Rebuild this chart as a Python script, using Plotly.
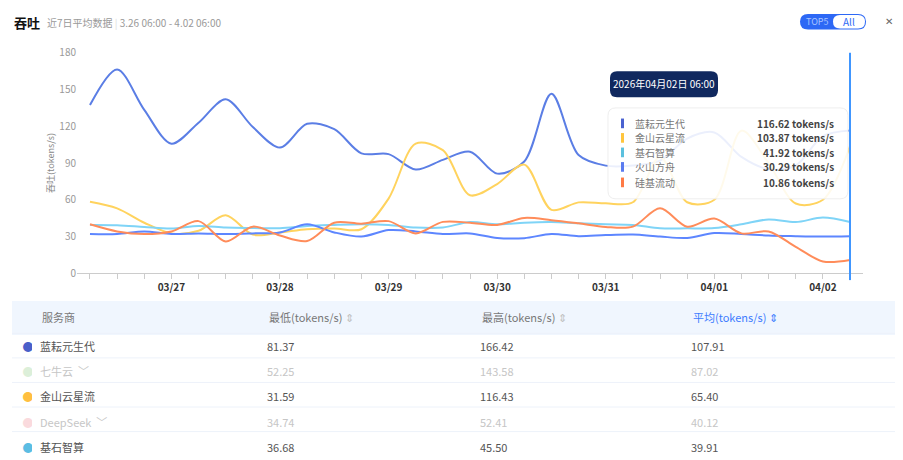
import pandas as pd
import plotly.graph_objs as go

W, H = 903, 460
OFF = 8  # the page puts the figure 8px in from the top-left

times = pd.date_range('2026-03-26 06:00', periods=29, freq='6h')
day_ticks = ['03/27', '03/28', '03/29', '03/30', '03/31', '04/01', '04/02']

lanyun = [137.3, 166.42, 133.4, 105.8, 122.9, 142.0, 119.4, 102.6, 122.0, 117.6,
          97.9, 97.3, 84.7, 92.6, 99.2, 81.37, 91.3, 146.5, 96.5, 87.9,
          88.0, 92.0, 110.0, 115.0, 95.0, 85.0, 88.0, 112.0, 116.62]
jinshan = [58.4, 53.0, 41.3, 32.6, 34.7, 47.4, 31.59, 33.4, 36.0, 36.6,
           36.0, 61.0, 105.8, 100.5, 63.7, 72.9, 88.7, 51.8, 57.9, 57.1,
           58.0, 95.0, 58.0, 60.0, 116.43, 90.0, 57.0, 60.0, 103.87]
jishi = [39.5, 39.3, 37.9, 36.68, 38.7, 37.4, 37.0, 36.8, 38.7, 39.5,
         40.0, 39.5, 37.4, 37.4, 41.8, 40.0, 41.3, 41.8, 40.8, 40.0,
         39.5, 36.8, 36.7, 36.9, 40.0, 44.0, 41.8, 45.5, 41.92]
huoshan = [32.1, 32.1, 34.2, 32.1, 32.6, 32.1, 32.6, 33.4, 40.0, 33.4,
           30.0, 35.3, 34.2, 32.1, 32.6, 28.9, 28.7, 32.1, 30.3, 31.2,
           31.6, 30.0, 28.9, 32.9, 32.1, 30.8, 30.3, 30.0, 30.29]
guiji = [40.0, 34.2, 32.1, 34.2, 42.6, 26.0, 38.1, 30.8, 26.3, 41.3,
         40.5, 42.6, 32.6, 42.0, 41.3, 39.5, 45.2, 43.4, 40.8, 37.9,
         38.1, 53.1, 38.1, 44.7, 32.6, 34.2, 21.6, 9.7, 10.86]

series_names = ['蓝耘元生代', '金山云星流', '基石智算', '火山方舟', '硅基流动']
series_colors = ['#5b7ee5', '#ffd35e', '#7fd4f7', '#5d86ff', '#ff8c5a']
tip_colors = ['#4a62d0', '#ffc53d', '#5bc0de', '#5a7bf0', '#ff7a45']

providers = ['蓝耘元生代', '七牛云', '金山云星流', 'DeepSeek', '基石智算']
min_vals = [81.37, 52.25, 31.59, 34.74, 36.68]
max_vals = [166.42, 143.58, 116.43, 52.41, 45.50]
avg_vals = [107.91, 87.02, 65.40, 40.12, 39.91]
active = [True, False, True, False, True]
dot_colors = ['#4a5fc9', '#dcefd9', '#ffbf40', '#fadadd', '#5bbde3']
table_head = ['服务商', '最低(tokens/s)', '最高(tokens/s)', '平均(tokens/s)']

FONT = 'Noto Sans CJK SC, Noto Sans, sans-serif'


def px(x):
    return (x - OFF) / W


def py(y):
    return 1 - (y - OFF) / H


def rounded_rect(x0, y0, x1, y1, r):
    pts = [
        ('M', x0 + r, y0), ('L', x1 - r, y0), ('Q', x1, y0, x1, y0 + r),
        ('L', x1, y1 - r), ('Q', x1, y1, x1 - r, y1), ('L', x0 + r, y1),
        ('Q', x0, y1, x0, y1 - r), ('L', x0, y0 + r), ('Q', x0, y0, x0 + r, y0),
    ]
    out = []
    for p in pts:
        if p[0] == 'Q':
            out.append('Q%.5f,%.5f %.5f,%.5f' % (px(p[1]), py(p[2]), px(p[3]), py(p[4])))
        else:
            out.append('%s%.5f,%.5f' % (p[0], px(p[1]), py(p[2])))
    return ' '.join(out) + ' Z'


fig = go.Figure()

all_series = [lanyun, jinshan, jishi, huoshan, guiji]
for name, vals, color in zip(series_names, all_series, series_colors):
    fig.add_trace(go.Scatter(x=times, y=vals, name=name, mode='lines',
                             line=dict(color=color, width=2, shape='spline', smoothing=0.9),
                             hoverinfo='skip'))

# tick labels only at midnight
tickvals = list(times)
ticktext = []
k = 0
for t in times:
    if t.hour == 0:
        ticktext.append('<b>%s</b>' % day_ticks[k])
        k += 1
    else:
        ticktext.append('')

pad = pd.Timedelta(hours=2.87)
fig.update_layout(
    width=W, height=H, margin=dict(l=0, r=0, t=0, b=0),
    paper_bgcolor='white', plot_bgcolor='white', showlegend=False,
    font=dict(family=FONT, size=10, color='#999'),
    xaxis=dict(domain=[px(77), px(863)], range=[times[0] - pad, times[-1] + pad],
               tickvals=tickvals, ticktext=ticktext, ticks='outside', ticklen=5,
               tickcolor='#cccccc', showline=True, linecolor='#cccccc', linewidth=1,
               showgrid=False, zeroline=False, tickfont=dict(size=10, color='#333')),
    yaxis=dict(domain=[py(274), py(46)], range=[0, 180], tickvals=[0, 30, 60, 90, 120, 150, 180],
               showgrid=False, zeroline=False, showline=False, ticks='',
               tickfont=dict(size=10, color='#999')),
)

HEAD_H = 33
ROW_H = 25.4
TABLE_TOP = 303

shapes = []
# cursor line
shapes.append(dict(type='line', xref='x', yref='paper', x0=times[-1], x1=times[-1],
                   y0=py(281), y1=py(46), line=dict(color='#4096ff', width=2)))
# tooltip
shapes.append(dict(type='path', xref='paper', yref='paper', path=rounded_rect(610, 65, 718, 92, 7),
                   fillcolor='#10285e', line=dict(width=0)))
shapes.append(dict(type='path', xref='paper', yref='paper', path=rounded_rect(608, 103, 848, 197, 8),
                   fillcolor='rgba(255,255,255,0.88)', line=dict(color='#eeeeee', width=1)))
row_y = [119, 134, 149, 164, 180]
for yy, c in zip(row_y, tip_colors):
    shapes.append(dict(type='rect', xref='paper', yref='paper', x0=px(621), x1=px(624),
                       y0=py(yy + 5), y1=py(yy - 5), fillcolor=c, line=dict(width=0)))
# toggle
shapes.append(dict(type='path', xref='paper', yref='paper', path=rounded_rect(800, 6, 866, 22, 8),
                   fillcolor='#2d68f5', line=dict(width=0)))
shapes.append(dict(type='path', xref='paper', yref='paper', path=rounded_rect(833, 7, 865, 21, 7),
                   fillcolor='white', line=dict(width=0)))
# row separators of the table
for i in range(len(providers)):
    yy = TABLE_TOP + HEAD_H + ROW_H * i
    shapes.append(dict(type='line', xref='paper', yref='paper', x0=px(12), x1=px(898),
                       y0=py(yy), y1=py(yy), line=dict(color='#edf2fa', width=1)))
fig.update_layout(shapes=shapes)

ann = []
ann.append(dict(x=px(12), y=py(15), text='<b>吞吐</b>', font=dict(size=13, color='#111')))
ann.append(dict(x=px(45), y=py(15),
                text="近7日平均数据 <span style='color:#ddd'>|</span> 3.26 06:00 - 4.02 06:00",
                font=dict(size=10, color='#999')))
ann.append(dict(x=px(817), y=py(14), text='TOP5', xanchor='center', font=dict(size=9, color='#a9c3ff')))
ann.append(dict(x=px(849), y=py(14), text='All', xanchor='center', font=dict(size=10, color='#2d68f5')))
ann.append(dict(x=px(889), y=py(14), text='✕', xanchor='center',
                font=dict(family='DejaVu Sans', size=10, color='#666')))
ann.append(dict(x=px(50), y=py(160), text='吞吐(tokens/s)', textangle=-90, xanchor='center',
                font=dict(size=9, color='#888')))
ann.append(dict(x=px(664), y=py(78), text='2026年04月02日 06:00', xanchor='center',
                font=dict(size=10, color='white')))
last_vals = [s[-1] for s in all_series]
for yy, name, v in zip(row_y, series_names, last_vals):
    ann.append(dict(x=px(633), y=py(yy), text=name, font=dict(size=10, color='#777')))
    ann.append(dict(x=px(836), y=py(yy), text='<b>%.2f tokens/s</b>' % v, xanchor='right',
                    font=dict(size=10, color='#444')))
# table header texts, centred in the header band
head_x = [40, 267, 480, 691]
head_y = TABLE_TOP + HEAD_H / 2
for i, (hx, ht) in enumerate(zip(head_x, table_head)):
    if i == 0:
        txt = ht
        col = '#777'
    else:
        txt = ht + " <span style='color:%s'>⇕</span>" % ('#3d7bff' if i == 3 else '#c0c0c0')
        col = '#3d7bff' if i == 3 else '#777'
    ann.append(dict(x=px(hx), y=py(head_y), text=txt, font=dict(size=11, color=col)))
for a in ann:
    a.setdefault('xref', 'paper')
    a.setdefault('yref', 'paper')
    a.setdefault('xanchor', 'left')
    a.setdefault('yanchor', 'middle')
    a.setdefault('showarrow', False)
fig.update_layout(annotations=ann)

# table under the chart
names_col = []
for p, a in zip(providers, active):
    names_col.append(p if a else p + '  ﹀')
text_colors = ['#555' if a else '#c6c6c6' for a in active]
fig.add_trace(go.Table(
    domain=dict(x=[px(12), px(898)], y=[0, py(TABLE_TOP)]),
    columnwidth=[20, 227, 213, 211, 215],
    header=dict(values=['', '', '', '', ''], fill_color='#f0f6fe', line_color='#f0f6fe', height=HEAD_H),
    cells=dict(values=[['\u00a0●'] * len(providers), names_col,
                       ['%.2f' % v for v in min_vals],
                       ['%.2f' % v for v in max_vals],
                       ['%.2f' % v for v in avg_vals]],
               fill_color='white', line=dict(color='white', width=1), height=ROW_H,
               align='left',
               font=dict(family=FONT, size=11,
                         color=[dot_colors, text_colors, text_colors, text_colors, text_colors])),
))

fig.write_html('out.html')
